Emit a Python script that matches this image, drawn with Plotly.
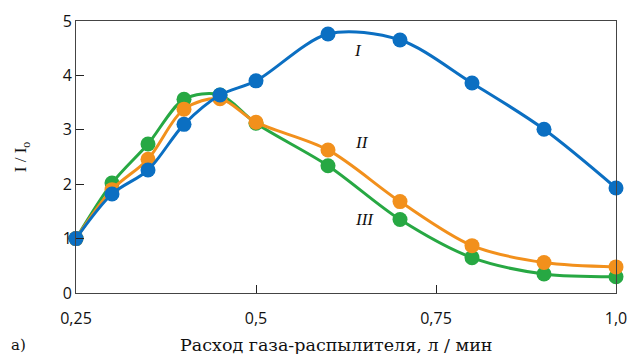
import plotly.graph_objects as go

# Gas atomizer flow rate, l/min
flow = [0.25, 0.30, 0.35, 0.40, 0.45, 0.50, 0.60, 0.70, 0.80, 0.90, 1.00]

# Relative intensity I / I0 for the three series
series_I = [1.00, 1.82, 2.26, 3.10, 3.64, 3.90, 4.76, 4.65, 3.86, 3.01, 1.93]
series_II = [1.00, 1.90, 2.46, 3.38, 3.57, 3.14, 2.63, 1.68, 0.87, 0.56, 0.48]
series_III = [1.00, 2.02, 2.74, 3.56, 3.64, 3.12, 2.34, 1.35, 0.65, 0.35, 0.30]

x_tickvals = [0.25, 0.5, 0.75, 1.0]
x_ticktext = ["0,25", "0,5", "0,75", "1,0"]
y_tickvals = [0, 1, 2, 3, 4, 5]

series_names = ["I", "II", "III"]
series_colors = ["#0b6fc2", "#f2901c", "#27a843"]
# label positions (data coordinates) for series names
label_x = [0.642, 0.647, 0.651]
label_y = [4.46, 2.76, 1.36]

fig = go.Figure()

# draw III and II first so I sits on top
for name, ys, color in list(zip(series_names, [series_I, series_II, series_III], series_colors))[::-1]:
    fig.add_trace(go.Scatter(
        x=flow, y=ys, name=name,
        mode="lines+markers",
        line=dict(color=color, width=3, shape="spline", smoothing=0.9),
        marker=dict(color=color, size=15),
        cliponaxis=False,
        showlegend=False,
    ))

for name, lx, ly in zip(series_names, label_x, label_y):
    fig.add_annotation(
        x=lx, y=ly, text=f"<i>{name}</i>", showarrow=False,
        font=dict(family="Liberation Serif", size=17, color="#111"),
    )

# panel letter and x-axis caption on one baseline below the plot
fig.add_annotation(
    xref="paper", yref="paper", x=-0.125, y=-0.19, text="а)",
    showarrow=False, xanchor="left", yanchor="middle",
    font=dict(family="DejaVu Serif", size=15, color="#111"),
)
fig.add_annotation(
    xref="paper", yref="paper", x=0.482, y=-0.19,
    text="Расход газа-распылителя, л / мин",
    showarrow=False, xanchor="center", yanchor="middle",
    font=dict(family="DejaVu Serif", size=17.5, color="#111"),
)

fig.update_layout(
    width=632, height=354,
    margin=dict(l=76, r=16, t=21, b=61),
    paper_bgcolor="white", plot_bgcolor="white",
    font=dict(family="Open Sans", size=15, color="#111"),
    xaxis=dict(
        range=[0.25, 1.0], tickvals=x_tickvals, ticktext=x_ticktext,
        ticks="inside", ticklen=8, tickcolor="#222",
        ticklabelstandoff=11,
        showline=True, linecolor="#444", linewidth=1, mirror=True,
        showgrid=False, zeroline=False, automargin=False,
        tickfont=dict(family="Open Sans", size=16, color="#111"),
    ),
    yaxis=dict(
        range=[0, 5], tickvals=y_tickvals,
        ticks="inside", ticklen=8, tickcolor="#222",
        showline=True, linecolor="#444", linewidth=1, mirror=True,
        showgrid=False, zeroline=False, automargin=False,
        title=dict(text="I / I<sub>o</sub>", standoff=31,
                   font=dict(family="Liberation Serif", size=17, color="#111")),
        tickfont=dict(family="Open Sans", size=16, color="#111"),
    ),
)

fig.write_html("out.html")
